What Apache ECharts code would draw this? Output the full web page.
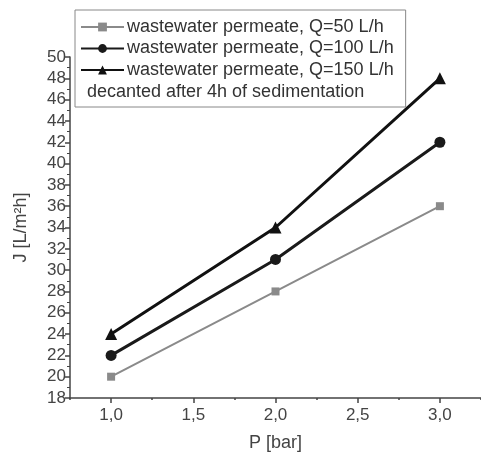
<!DOCTYPE html>
<html><head><meta charset="utf-8">
<script src="https://cdn.jsdelivr.net/npm/echarts@6/dist/echarts.min.js"></script>
<style>html,body{margin:0;padding:0;background:#fff}#c{width:481px;height:457px}</style>
</head><body><div id="c"></div>
<script>
const pressure = [1.0, 2.0, 3.0];
const q50 = [20, 28, 36];
const q100 = [22, 31, 42];
const q150 = [24, 34, 48];
const seriesNames = ['wastewater permeate, Q=50 L/h', 'wastewater permeate, Q=100 L/h', 'wastewater permeate, Q=150 L/h'];
const legendNote = 'decanted after 4h of sedimentation';
const xMajorTicks = [1.0, 1.5, 2.0, 2.5, 3.0];
const xMinorTicks = [0.75, 1.25, 1.75, 2.25, 2.75, 3.25];

const font = 'Liberation Sans, Arial, sans-serif';
const pair = (ys) => pressure.map((x, i) => [x, ys[i]]);
const fmt = v => v.toFixed(1).replace('.', ',');

const chart = echarts.init(document.getElementById('c'), null, {renderer: 'canvas'});
chart.setOption({
  animation: false,
  backgroundColor: '#fff',
  grid: {left: 70, right: -4, top: 57, bottom: 59},
  legend: {
    orient: 'vertical', left: 75, top: 10,
    padding: [8, 12, 28, 5],
    borderColor: '#888', borderWidth: 1,
    itemWidth: 43, itemHeight: 11, itemGap: 3.5,
    textStyle: {fontFamily: font, fontSize: 18, color: '#333', padding: [0, 0, 0, -2]},
    data: seriesNames
  },
  graphic: [{
    type: 'text', left: 87, top: 83,
    style: {text: legendNote, font: '18px ' + font, fill: '#333'}
  }],
  xAxis: [{
    type: 'value', min: 0.75, max: 3.25, interval: 0.25,
    name: 'P [bar]', nameLocation: 'middle', nameGap: 36,
    nameTextStyle: {fontFamily: font, fontSize: 18, color: '#444'},
    axisLine: {onZero: false, lineStyle: {color: '#444', width: 1.5}},
    axisTick: {show: true, customValues: xMajorTicks, length: 5, lineStyle: {color: '#444', width: 1.5}},
    axisLabel: {customValues: xMajorTicks, formatter: fmt, fontFamily: font, fontSize: 17, color: '#444', margin: 9},
    splitLine: {show: false}
  }, {
    type: 'value', min: 0.75, max: 3.25, interval: 0.25, position: 'bottom',
    axisLine: {show: false},
    axisTick: {show: true, customValues: xMinorTicks, length: 2, lineStyle: {color: '#444', width: 1.5}},
    axisLabel: {show: false}, splitLine: {show: false}
  }],
  yAxis: {
    type: 'value', min: 18, max: 50, interval: 2,
    name: 'J [L/m²h]', nameLocation: 'middle', nameGap: 40,
    nameTextStyle: {fontFamily: font, fontSize: 18, color: '#444'},
    axisLine: {show: true, lineStyle: {color: '#444', width: 1.5}},
    axisTick: {show: true, length: 5, lineStyle: {color: '#444', width: 1.5}},
    minorTick: {show: true, splitNumber: 2, length: 3, lineStyle: {color: '#444', width: 1}},
    axisLabel: {fontFamily: font, fontSize: 17, color: '#444', margin: 4},
    splitLine: {show: false}
  },
  series: [{
    name: seriesNames[0], type: 'line', data: pair(q50),
    symbol: 'rect', symbolSize: 8,
    lineStyle: {color: '#8a8a8a', width: 2}, itemStyle: {color: '#8a8a8a'}
  }, {
    name: seriesNames[1], type: 'line', data: pair(q100),
    symbol: 'circle', symbolSize: 11,
    lineStyle: {color: '#1a1a1a', width: 3}, itemStyle: {color: '#1a1a1a'}
  }, {
    name: seriesNames[2], type: 'line', data: pair(q150),
    symbol: 'triangle', symbolSize: 12,
    lineStyle: {color: '#111', width: 3}, itemStyle: {color: '#111'}
  }]
});
</script></body></html>
